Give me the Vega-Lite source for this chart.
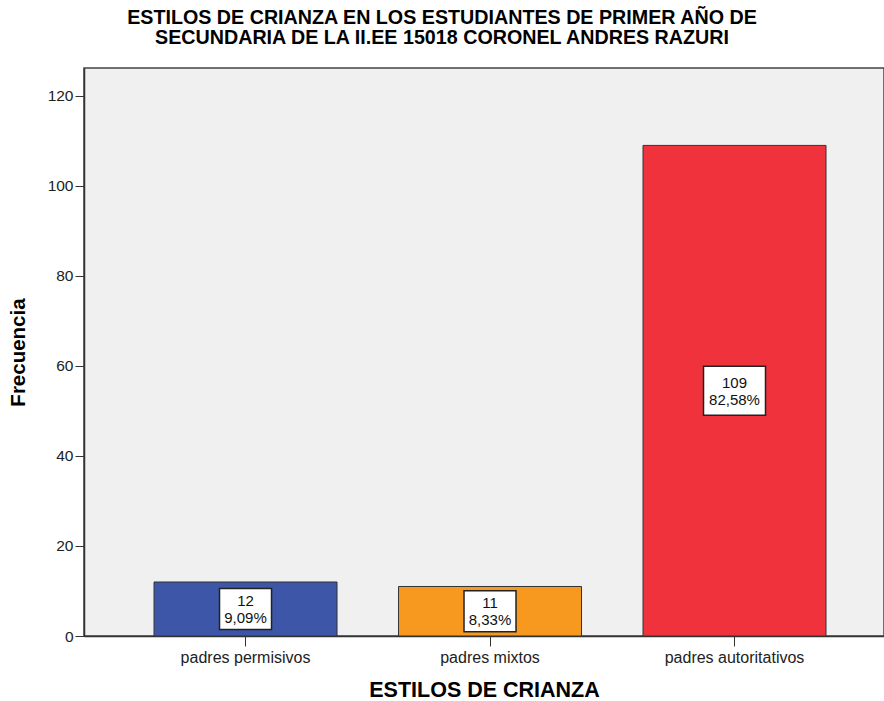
{
  "$schema": "https://vega.github.io/schema/vega-lite/v6.json",
  "autosize": "none",
  "width": 800,
  "height": 568,
  "padding": {"left": 84, "top": 68, "right": 0, "bottom": 65},
  "background": "white",
  "config": {
    "font": "Liberation Sans",
    "view": {"fill": "#f0f0f0", "stroke": "#444444", "strokeWidth": 1.5}
  },
  "title": {
    "text": ["ESTILOS DE CRIANZA EN LOS ESTUDIANTES DE PRIMER AÑO DE", "SECUNDARIA DE LA II.EE 15018 CORONEL ANDRES RAZURI"],
    "font": "Liberation Sans",
    "fontSize": 19.7,
    "fontWeight": "bold",
    "color": "black",
    "anchor": "middle",
    "dx": -42,
    "offset": 20,
    "lineHeight": 20
  },
  "data": {
    "values": [
      {"estilo": "padres permisivos", "n": 12, "pct": "9,09%"},
      {"estilo": "padres mixtos", "n": 11, "pct": "8,33%"},
      {"estilo": "padres autoritativos", "n": 109, "pct": "82,58%"}
    ]
  },
  "encoding": {
    "x": {
      "field": "estilo",
      "type": "nominal",
      "sort": null,
      "scale": {"paddingInner": 0.2515, "paddingOuter": 0.2618, "align": 0.547},
      "axis": {
        "title": "ESTILOS DE CRIANZA",
        "titleFont": "Liberation Sans",
        "titleFontSize": 21.5,
        "titleFontWeight": "bold",
        "titleColor": "black",
        "titlePadding": 14,
        "labelAngle": 0,
        "labelFontSize": 16,
        "labelColor": "#222222",
        "labelPadding": 3,
        "tickSize": 10,
        "tickColor": "#333333",
        "domainColor": "#333333",
        "domainWidth": 1.5
      }
    }
  },
  "layer": [
    {
      "mark": {"type": "bar", "stroke": "#333333", "strokeWidth": 1},
      "encoding": {
        "y": {
          "field": "n",
          "type": "quantitative",
          "scale": {"domain": [0, 126.2], "nice": false},
          "axis": {
            "title": "Frecuencia",
            "titleFont": "Liberation Sans",
            "titleFontSize": 20.5,
            "titleFontWeight": "bold",
            "titleColor": "black",
            "titlePadding": 19,
            "values": [0, 20, 40, 60, 80, 100, 120],
            "grid": false,
            "labelFontSize": 15.5,
            "labelColor": "#222222",
            "labelPadding": 2,
            "tickSize": 9,
            "tickColor": "#333333",
            "domainColor": "#333333",
            "domainWidth": 1.5
          }
        },
        "color": {
          "field": "estilo",
          "type": "nominal",
          "sort": null,
          "scale": {"domain": ["padres permisivos", "padres mixtos", "padres autoritativos"], "range": ["#3d56a8", "#f7981f", "#f0323c"]},
          "legend": null
        }
      }
    },
    {
      "mark": {"type": "point", "shape": "M-1,-0.79L1,-0.79L1,0.79L-1,0.79Z", "filled": true, "fill": "white", "stroke": "#222222", "strokeWidth": 1.5, "opacity": 1},
      "encoding": {
        "y": {"field": "n", "type": "quantitative", "scale": {"domain": [0, 252.4], "nice": false}, "axis": null},
        "size": {"condition": {"test": "datum.n >= 100", "value": 3844}, "value": 2704}
      }
    },
    {
      "mark": {"type": "text", "fontSize": 15, "color": "#111111", "dy": -8, "font": "Liberation Sans"},
      "encoding": {
        "y": {"field": "n", "type": "quantitative", "scale": {"domain": [0, 252.4], "nice": false}, "axis": null},
        "text": {"field": "n", "type": "quantitative"}
      }
    },
    {
      "mark": {"type": "text", "fontSize": 15, "color": "#111111", "dy": 9, "font": "Liberation Sans"},
      "encoding": {
        "y": {"field": "n", "type": "quantitative", "scale": {"domain": [0, 252.4], "nice": false}, "axis": null},
        "text": {"field": "pct", "type": "nominal"}
      }
    }
  ],
  "resolve": {"scale": {"y": "independent"}}
}
